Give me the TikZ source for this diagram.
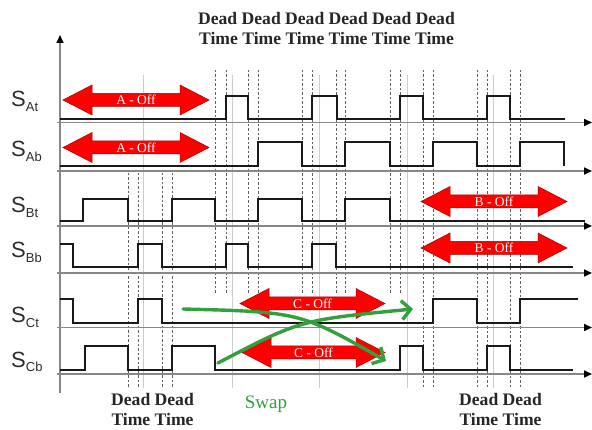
\documentclass[tikz,border=0pt]{standalone}
\usepackage{fontspec}
\setmainfont{Liberation Serif}
\newfontfamily\lsans{Liberation Sans}
\usetikzlibrary{arrows.meta,calc}
\definecolor{sig}{RGB}{25,25,25}
\definecolor{axisgray}{RGB}{135,135,135}
\definecolor{dashgray}{RGB}{95,95,95}
\definecolor{faint}{RGB}{205,205,205}
\definecolor{swapgreen}{RGB}{50,160,60}
\definecolor{offred}{RGB}{255,0,0}
\definecolor{offedge}{RGB}{165,0,0}
\definecolor{lblgray}{RGB}{45,45,45}
\tikzset{
  signal/.style={draw=sig, line width=1.8pt, line join=miter},
  axisline/.style={draw=axisgray, line width=1.6pt, -{Triangle[length=8pt,width=7pt,color=black]}},
  dl/.style={draw=dashgray, line width=0.9pt, dash pattern=on 2.5pt off 2pt},
  faintline/.style={draw=faint, line width=0.9pt},
  swaparrow/.style={draw=swapgreen, line width=3.4pt, line cap=round, -{Straight Barb[length=9pt,width=19pt,line width=3.4pt]}},
  offtext/.style={text=white, font=\fontsize{13.5}{13.5}\selectfont, inner sep=0pt},
  rowlbl/.style={text=lblgray, font=\lsans\fontsize{22}{22}\selectfont, inner sep=0pt, anchor=base west},
  deadlbl/.style={text=black!85, font=\bfseries\fontsize{17.6}{17.6}\selectfont, inner sep=0pt, anchor=base},
  swaplbl/.style={text=swapgreen, font=\fontsize{19}{19}\selectfont, inner sep=0pt, anchor=base}
}
\newcommand\offarrow[5]{%
  \fill[offred, draw=offedge, line width=0.5pt] (#2,#4) -- ({#2+29},{#4-15}) -- ({#2+29},{#4-6.5}) -- ({#3-29},{#4-6.5}) -- ({#3-29},{#4-15}) -- (#3,#4) -- ({#3-29},{#4+15}) -- ({#3-29},{#4+6.5}) -- ({#2+29},{#4+6.5}) -- ({#2+29},{#4+15}) -- cycle;
  \node[offtext] (#1) at ({(#2+#3)/2},#4) {#5};
}
\newcommand\subl[1]{\lower4.5pt\hbox{\fontsize{13}{13}\selectfont #1}}
\begin{document}
\begin{tikzpicture}[x=1pt,y=-1pt]
\fill[white] (0,0) rectangle (592,430);
\useasboundingbox (0,0) rectangle (592,430);

% faint guide lines
\foreach \x in {143,232,319,407,493} \draw[faintline] (\x,75) -- (\x,388);
% dead-time dashed lines
\foreach \x in {128,138,162,172} \draw[dl] (\x,173) -- (\x,388);
\foreach \x in {215,226,248,258,302,312,336,345,390,400} \draw[dl] (\x,70) -- (\x,293);
\foreach \x in {423,433,477,487,510,520} \draw[dl] (\x,70) -- (\x,388);

% axes
\coordinate (yb) at (60,393);
\coordinate (yt) at (60,35);
\draw[axisline] (yb) -- (yt);
\foreach \y/\n in {122.5/at,171/ab,226/bt,273/bb,327.5/ct,374/cb} {
  \coordinate (ax\n s) at (57,\y);
  \coordinate (ax\n e) at (592,\y);
  \draw[axisline] (ax\n s) -- (ax\n e);
}

% signals
\draw[signal] (60,119) -- (226,119) -- (226,96) -- (248,96) -- (248,119) -- (312,119) -- (312,96) -- (337,96) -- (337,119) -- (400,119) -- (400,96) -- (423,96) -- (423,119) -- (487,119) -- (487,96) -- (510,96) -- (510,119) -- (565,119);
\draw[signal] (60,166) -- (258,166) -- (258,142) -- (302,142) -- (302,166) -- (345,166) -- (345,142) -- (390,142) -- (390,166) -- (433,166) -- (433,142) -- (477,142) -- (477,166) -- (520,166) -- (520,142) -- (564,142) -- (564,166);
\draw[signal] (60,221) -- (83,221) -- (83,199) -- (128,199) -- (128,221) -- (172,221) -- (172,199) -- (215,199) -- (215,221) -- (258,221) -- (258,199) -- (302,199) -- (302,221) -- (345,221) -- (345,199) -- (390,199) -- (390,221) -- (585,221);
\draw[signal] (60,244) -- (73,244) -- (73,267) -- (138,267) -- (138,244) -- (162,244) -- (162,267) -- (226,267) -- (226,244) -- (248,244) -- (248,267) -- (312,267) -- (312,244) -- (336,244) -- (336,267) -- (573,267);
\draw[signal] (60,299) -- (73,299) -- (73,323) -- (138,323) -- (138,299) -- (162,299) -- (162,323) -- (433,323) -- (433,299) -- (477,299) -- (477,323) -- (520,323) -- (520,299) -- (578,299);
\draw[signal] (60,370) -- (85,370) -- (85,346) -- (128,346) -- (128,370) -- (172,370) -- (172,346) -- (215,346) -- (215,370) -- (400,370) -- (400,346) -- (423,346) -- (423,370) -- (487,370) -- (487,346) -- (510,346) -- (510,370) -- (573,370);

% off arrows
\offarrow{aoff1}{63}{209}{100}{A - Off}
\offarrow{aoff2}{63}{209}{147.5}{A - Off}
\offarrow{boff1}{421}{567}{201.5}{B - Off}
\offarrow{boff2}{421}{567}{248}{B - Off}
\offarrow{coff1}{240}{385}{303.5}{C - Off}
\offarrow{coff2}{242}{385}{352.5}{C - Off}

% swap arrows
\coordinate (g1s) at (183,309);
\coordinate (g1e) at (386,361);
\coordinate (g2s) at (218,363);
\coordinate (g2e) at (413,309);
\draw[swaparrow] (g1s) .. controls (300,312) .. (g1e);
\draw[swaparrow] (g2s) .. controls (300,320) .. (g2e);

% row labels
\node[rowlbl] (sat) at (11,107) {S\subl{At}};
\node[rowlbl] (sab) at (11,157) {S\subl{Ab}};
\node[rowlbl] (sbt) at (11,213) {S\subl{Bt}};
\node[rowlbl] (sbb) at (11,258) {S\subl{Bb}};
\node[rowlbl] (sct) at (11,323) {S\subl{Ct}};
\node[rowlbl] (scb) at (11,367) {S\subl{Cb}};

% dead time labels
\node[deadlbl] (dtop1) at (326.5,25) {Dead Dead Dead Dead Dead Dead};
\node[deadlbl] (dtop2) at (326.5,45) {Time Time Time Time Time Time};
\node[deadlbl] (dbl1) at (152.5,406) {Dead Dead};
\node[deadlbl] (dbl2) at (152.5,425) {Time Time};
\node[deadlbl] (dbr1) at (500.5,406) {Dead Dead};
\node[deadlbl] (dbr2) at (500.5,425) {Time Time};
\node[swaplbl] (swap) at (266,409) {Swap};
\end{tikzpicture}
\end{document}
